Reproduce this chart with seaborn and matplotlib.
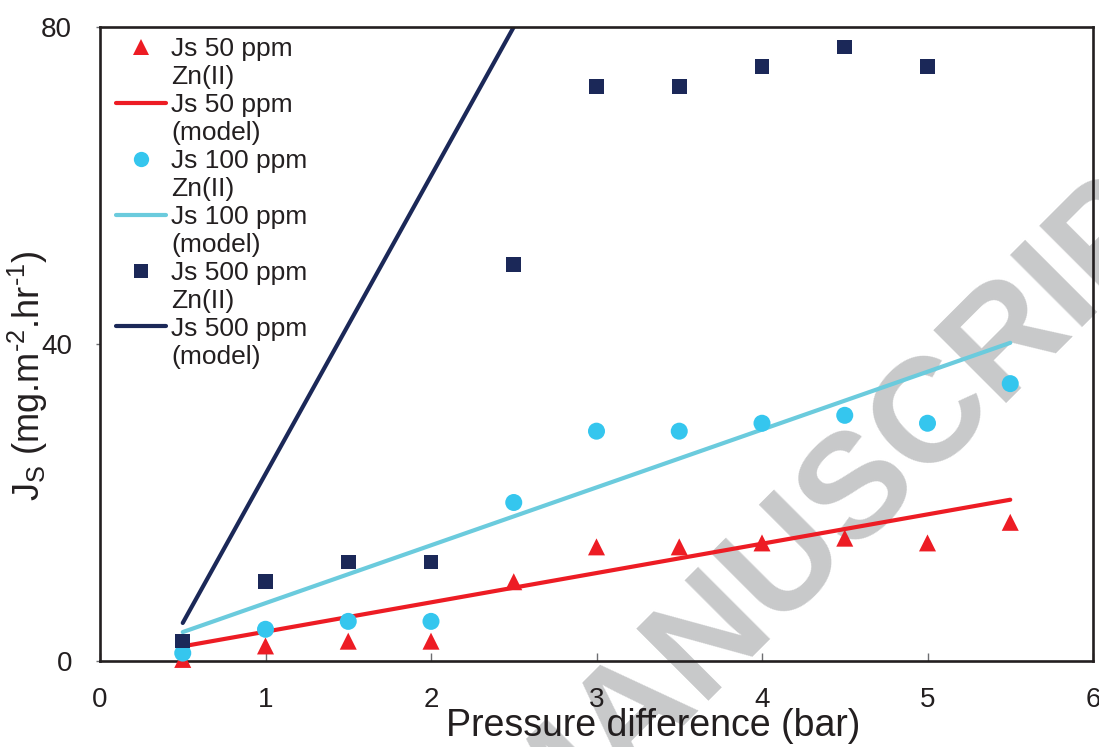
import matplotlib
matplotlib.use("Agg")
import matplotlib.pyplot as plt
from matplotlib.lines import Line2D
import pandas as pd
import seaborn as sns

# ---- data ----
pressure = [0.5, 1, 1.5, 2, 2.5, 3, 3.5, 4, 4.5, 5, 5.5]
js_50 = [0.2, 1.9, 2.5, 2.5, 10.0, 14.4, 14.4, 14.9, 15.5, 14.9, 17.5]
js_100 = [1.0, 4.0, 5.0, 5.0, 20.0, 29.0, 29.0, 30.0, 31.0, 30.0, 35.0]
pressure_500 = [0.5, 1, 1.5, 2, 2.5, 3, 3.5, 4, 4.5, 5]
js_500 = [2.5, 10.0, 12.5, 12.5, 50.0, 72.5, 72.5, 75.0, 77.5, 75.0]

model_50 = [1.85, 3.7, 5.55, 7.4, 9.25, 11.1, 12.95, 14.8, 16.65, 18.5, 20.35]
model_100 = [3.65, 7.3, 10.95, 14.6, 18.25, 21.9, 25.55, 29.2, 32.85, 36.5, 40.15]
pressure_model_500 = [0.5, 1, 1.5, 2, 2.5]
model_500 = [4.8, 23.6, 42.4, 61.2, 80.0]

labels = ["Js 50 ppm", "Zn(II)", "Js 50 ppm", "(model)",
          "Js 100 ppm", "Zn(II)", "Js 100 ppm", "(model)",
          "Js 500 ppm", "Zn(II)", "Js 500 ppm", "(model)"]
x_ticks = [0, 1, 2, 3, 4, 5, 6]
y_ticks = [0, 40, 80]

RED = "#ED1C24"
CYAN_PT = "#35C6EE"
CYAN_LN = "#6BCBDD"
NAVY = "#1B2858"
INK = "#231F20"

sns.set_theme(style="white")
plt.rcParams["font.family"] = ["Liberation Sans", "DejaVu Sans"]
plt.rcParams["mathtext.fontset"] = "custom"
plt.rcParams["mathtext.rm"] = "Liberation Sans"
plt.rcParams["mathtext.it"] = "Liberation Sans"
plt.rcParams["mathtext.default"] = "regular"

fig = plt.figure(figsize=(10.99, 7.47), dpi=100)
fig.patch.set_facecolor("white")
ax = fig.add_axes([100 / 1099, 1 - 661 / 747, 993 / 1099, 634 / 747])
ax.set_facecolor("none")

# watermark behind everything
fig.text(0.508, -0.067, "ACCEPTED MANUSCRIPT", fontsize=107, fontweight="bold",
         color="#C8C9CA", rotation=45, rotation_mode="anchor",
         ha="center", va="center", zorder=-1)

d50 = pd.DataFrame({"x": pressure, "y": js_50})
d100 = pd.DataFrame({"x": pressure, "y": js_100})
d500 = pd.DataFrame({"x": pressure_500, "y": js_500})
m50 = pd.DataFrame({"x": pressure, "y": model_50})
m100 = pd.DataFrame({"x": pressure, "y": model_100})
m500 = pd.DataFrame({"x": pressure_model_500, "y": model_500})

lw = 3.0
sns.lineplot(data=m500, x="x", y="y", ax=ax, color=NAVY, lw=lw,
             solid_capstyle="round", zorder=2)
sns.lineplot(data=m100, x="x", y="y", ax=ax, color=CYAN_LN, lw=lw,
             solid_capstyle="round", zorder=2)
sns.lineplot(data=m50, x="x", y="y", ax=ax, color=RED, lw=lw,
             solid_capstyle="round", zorder=2)

sns.scatterplot(data=d50, x="x", y="y", ax=ax, marker="^", s=150,
                color=RED, edgecolor="none", linewidth=0, zorder=3)
sns.scatterplot(data=d100, x="x", y="y", ax=ax, marker="o", s=150,
                color=CYAN_PT, edgecolor="none", linewidth=0, zorder=3)
sns.scatterplot(data=d500, x="x", y="y", ax=ax, marker="s", s=110,
                color=NAVY, edgecolor="none", linewidth=0, zorder=3)
for coll in ax.collections:
    coll.set_clip_on(False)

ax.set_xlim(0, 6)
ax.set_ylim(0, 80)
ax.set_xticks(x_ticks)
ax.set_yticks(y_ticks)
ax.set_xticklabels([str(v) for v in x_ticks])
ax.set_yticklabels([str(v) for v in y_ticks])

for sp in ax.spines.values():
    sp.set_visible(True)
    sp.set_color(INK)
    sp.set_linewidth(1.9)

ax.tick_params(axis="x", direction="in", length=6, width=1, color="#6D6E71",
               labelsize=20, pad=19, labelcolor=INK, bottom=True)
ax.tick_params(axis="y", direction="out", length=3, width=1, color="#6D6E71",
               labelsize=20, pad=17, labelcolor=INK, left=True)

ax.set_xlabel("Pressure difference (bar)", fontsize=27, color=INK)
ax.xaxis.set_label_coords(0.557, -0.074)
ax.set_ylabel("J$_S$ (mg.m$^{\u20102}$.hr$^{\u20101}$)", fontsize=26, color=INK)
ax.yaxis.set_label_coords(-0.05, 0.45)

blank = Line2D([], [], linestyle="none", marker=None)
handles = [
    Line2D([], [], linestyle="none", marker="^", markersize=11, color=RED, markeredgewidth=0),
    blank,
    Line2D([], [], color=RED, lw=lw, solid_capstyle="round"),
    blank,
    Line2D([], [], linestyle="none", marker="o", markersize=11, color=CYAN_PT, markeredgewidth=0),
    blank,
    Line2D([], [], color=CYAN_LN, lw=lw, solid_capstyle="round"),
    blank,
    Line2D([], [], linestyle="none", marker="s", markersize=9.5, color=NAVY, markeredgewidth=0),
    blank,
    Line2D([], [], color=NAVY, lw=lw, solid_capstyle="round"),
    blank,
]
leg = ax.legend(handles, labels, loc="upper left", bbox_to_anchor=(0.016, 0.984),
                frameon=False, fontsize=19, labelspacing=0.15, handlelength=1.9,
                handletextpad=0.2, borderpad=0, borderaxespad=0)
for t in leg.get_texts():
    t.set_color(INK)

fig.savefig("out.png", dpi=100, facecolor="white")
